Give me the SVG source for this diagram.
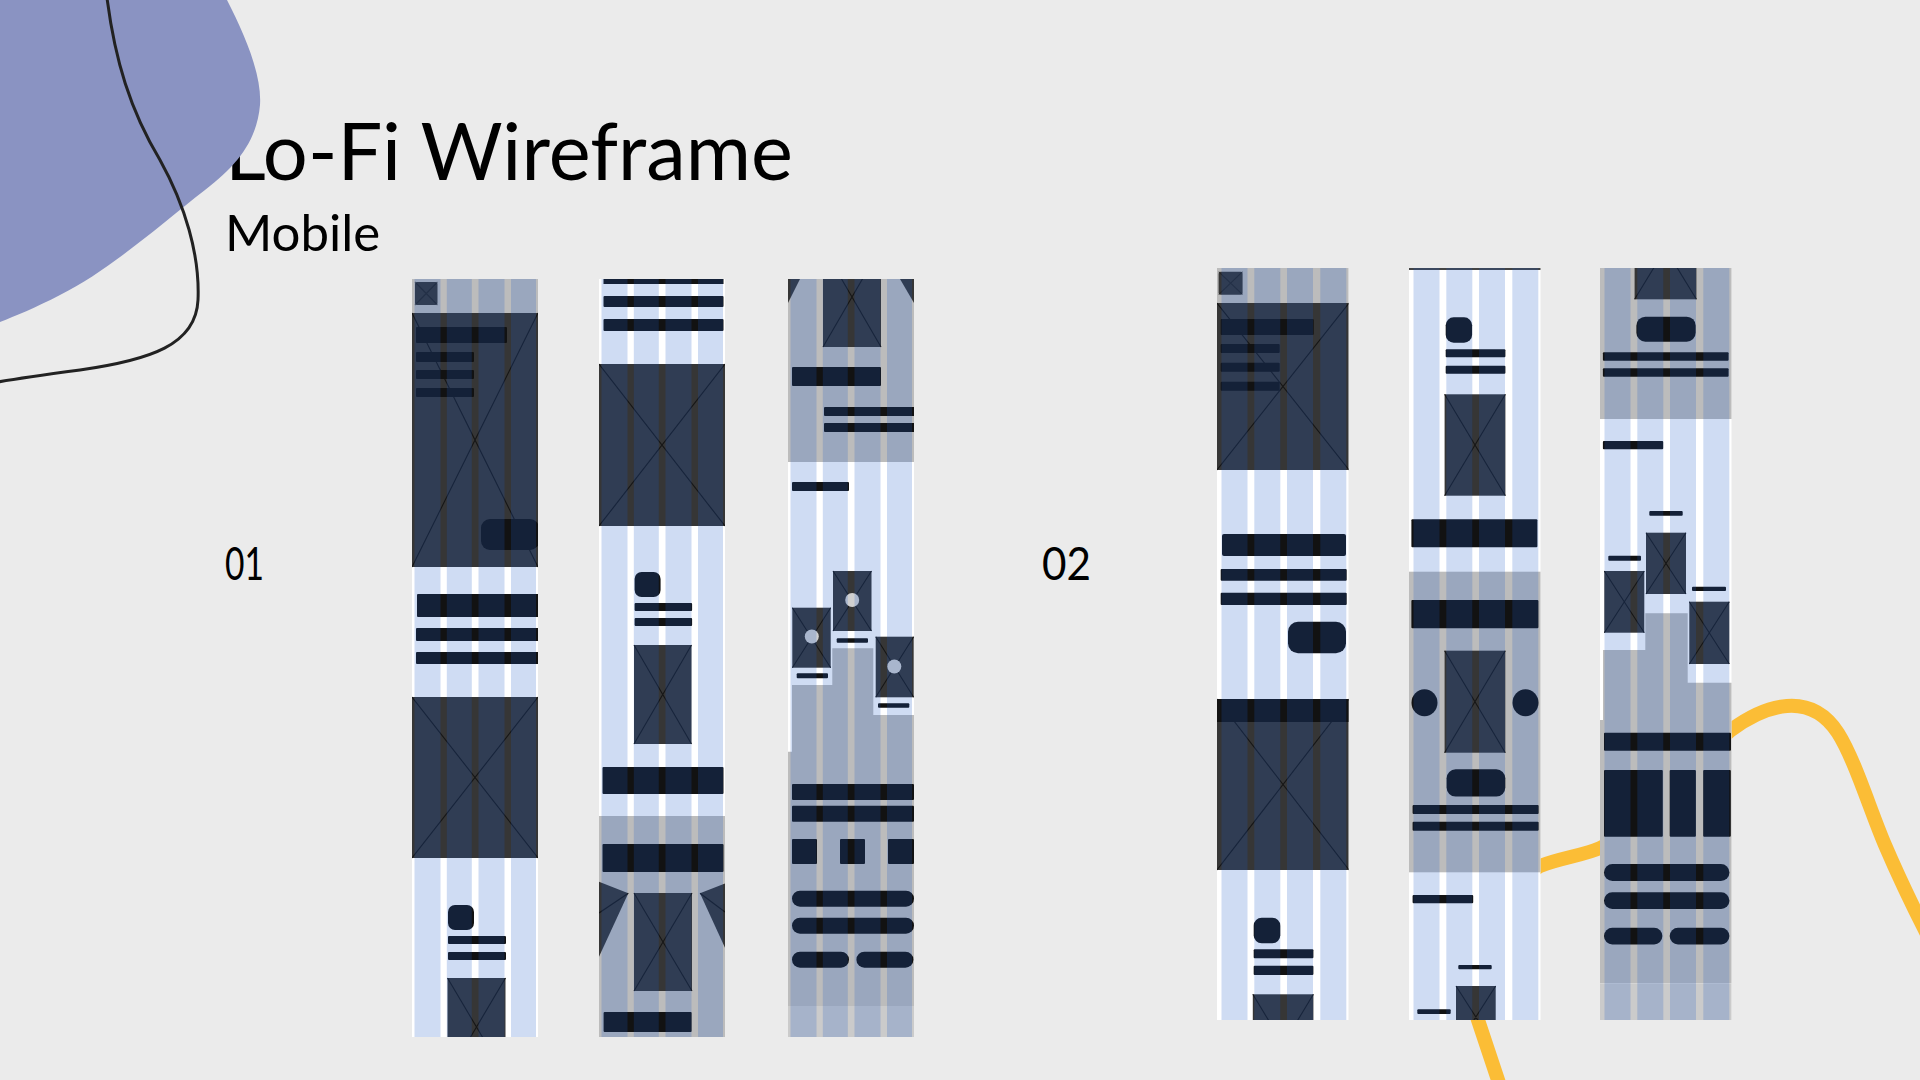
<svg xmlns="http://www.w3.org/2000/svg" xmlns:xlink="http://www.w3.org/1999/xlink" width="1920" height="1080" viewBox="0 0 1920 1080">
<style>
.txt{font-family:Lato,"Liberation Sans",sans-serif;fill:#000}
.w{fill:#fff}.g{fill:#bcbcbc}.d{fill:#363636}.k{fill:#121212}.n{fill:#cbcbcb}.c{fill:#cfcfcf}
.x{fill:none;stroke:#161616;stroke-width:1.1}
.t{fill:#1a58c6;fill-opacity:.21}
</style>
<defs>
<clipPath id="c1"><rect width="126" height="758"/></clipPath>
<clipPath id="c2"><rect width="131.5" height="752"/></clipPath>
<g id="t1"><rect class="t" x="2.5" width="26" height="758"/><rect class="t" x="34.8" width="25" height="758"/><rect class="t" x="66.5" width="26" height="758"/><rect class="t" x="99" width="25" height="758"/></g>
<g id="t2"><rect class="t" x="4.5" width="26" height="752"/><rect class="t" x="37.3" width="26" height="752"/><rect class="t" x="70" width="26" height="752"/><rect class="t" x="103.3" width="26" height="752"/></g>
</defs>
<rect width="1920" height="1080" fill="#ebebeb"/>
<g id="title">
<text class="txt" x="225" y="180" font-size="80" textLength="568" lengthAdjust="spacingAndGlyphs">Lo-Fi Wireframe</text>
<text class="txt" x="225" y="251" font-size="51">Mobile</text>
</g>
<g id="decor">
<path d="M0,0 L227,0 C245,35 262,75 260,105 C257,140 238,165 205,190 C160,225 110,270 60,295 C35,308 15,316 0,322 Z" fill="#8a93c2"/>
<path d="M107,-2 C115,60 130,110 160,160 C185,205 200,255 198,300 C196,345 150,360 80,370 C50,374 20,378 -2,382" fill="none" stroke="#222" stroke-width="3"/>
<path d="M1503,1095 L1478,1020 C1468,990 1480,900 1540,866 C1560,858 1585,855 1600,848 C1650,825 1700,755 1731,730 C1765,705 1810,690 1838,733 C1855,760 1870,810 1885,845 C1897,873 1912,905 1930,940" fill="none" stroke="#fbbd36" stroke-width="14"/>
</g>
<g id="label-01"><text class="txt" x="225" y="580" font-size="46" textLength="39" lengthAdjust="spacingAndGlyphs">01</text></g>
<g id="label-02"><text class="txt" x="1042" y="580" font-size="46" textLength="49" lengthAdjust="spacingAndGlyphs">02</text></g>

<g id="phone-01-a" transform="translate(412,279)"><g clip-path="url(#c1)">
<rect class="w" width="126" height="758"/>
<rect class="g" width="126" height="34"/>
<rect class="d" x="3" y="3" width="22.5" height="23" rx="2"/>
<path class="x" d="M3,3L25.5,26M25.5,3L3,26" opacity=".5"/>
<rect class="d" y="34" width="126" height="254"/>
<path class="x" d="M0,34L126,288M126,34L0,288"/>
<rect class="k" x="4" y="48" width="91" height="16" rx="1"/>
<rect class="k" x="4" y="73" width="58" height="10" rx="1"/>
<rect class="k" x="4" y="91" width="58" height="9" rx="1"/>
<rect class="k" x="4" y="109" width="58" height="9" rx="1"/>
<rect class="k" x="69" y="240" width="58" height="31" rx="9"/>
<rect class="k" x="5" y="315" width="123" height="23" rx="1"/>
<rect class="k" x="4" y="349" width="124" height="13" rx="1"/>
<rect class="k" x="4" y="373" width="124" height="12" rx="1"/>
<rect class="d" y="418" width="126" height="161"/>
<path class="x" d="M0,418L126,579M126,418L0,579"/>
<rect class="k" x="36" y="626" width="26" height="25" rx="7"/>
<rect class="k" x="36" y="657" width="58" height="8" rx="1"/>
<rect class="k" x="36" y="673" width="58" height="8" rx="1"/>
<rect class="d" x="35.5" y="699" width="58" height="98"/>
<path class="x" d="M35.5,699L93.5,797M93.5,699L35.5,797"/>
<use xlink:href="#t1"/>
</g></g>

<g id="phone-01-b" transform="translate(599,279)"><g clip-path="url(#c1)">
<rect class="w" width="126" height="758"/>
<rect class="k" x="4.5" y="-6" width="120" height="11"/>
<rect class="k" x="4.5" y="17" width="120" height="11" rx="1"/>
<rect class="k" x="4.5" y="40" width="120" height="12" rx="1"/>
<rect class="d" y="85" width="126" height="162"/>
<path class="x" d="M0,85L126,247M126,85L0,247"/>
<rect class="k" x="35.6" y="293" width="26" height="25" rx="7"/>
<rect class="k" x="35.6" y="324" width="57.5" height="8" rx="1"/>
<rect class="k" x="35.6" y="339" width="57.5" height="8" rx="1"/>
<rect class="d" x="35" y="366" width="57.5" height="99"/>
<path class="x" d="M35,366L92.5,465M92.5,366L35,465"/>
<rect class="k" x="3.5" y="488" width="121" height="27" rx="1"/>
<rect class="g" y="537" width="126" height="221"/>
<rect class="k" x="3.5" y="565" width="121" height="28" rx="1"/>
<polygon class="d" points="0,602.7 29.3,614.3 0,677.7"/>
<path class="x" d="M29.3,614.3L0,634"/>
<polygon class="d" points="126.3,604.3 101,614.3 126.3,669.3"/>
<path class="x" d="M101,614.3L126,633"/>
<rect class="d" x="35" y="614" width="58" height="98"/>
<path class="x" d="M35,614L93,712M93,614L35,712"/>
<rect class="k" x="4.6" y="733" width="88" height="20" rx="1"/>
<use xlink:href="#t1"/>
</g></g>

<g id="phone-01-c" transform="translate(788,279)"><g clip-path="url(#c1)">
<rect class="w" width="126" height="758"/>
<rect class="g" width="126" height="183"/>
<polygon class="d" points="0,0 12,0 0,24"/>
<polygon class="d" points="112,0 126,0 126,24"/>
<rect class="d" x="35" y="-32" width="58" height="100"/>
<path class="x" d="M35,-32L93,68M93,-32L35,68"/>
<rect class="k" x="4" y="88" width="89" height="19" rx="1"/>
<rect class="k" x="36" y="128" width="92" height="9" rx="1"/>
<rect class="k" x="36" y="144" width="92" height="9" rx="1"/>
<rect class="k" x="4" y="203" width="57" height="9" rx="1"/>
<polygon class="g" points="4,406 44.3,406 44.3,369.3 85.3,369.3 85.3,436 126,436 126,727 0,727 0,472.7 4,472.7"/>
<rect class="n" y="727" width="126" height="31"/>
<rect class="d" x="45" y="292" width="38.5" height="60"/>
<path class="x" d="M45,292L83.5,352M83.5,292L45,352"/>
<circle class="c" cx="64.2" cy="321" r="7"/>
<rect class="k" x="48.7" y="359.3" width="31.3" height="4.4" rx="1"/>
<rect class="d" x="4.3" y="328.7" width="38.4" height="60"/>
<path class="x" d="M4.3,328.7L42.7,388.7M42.7,328.7L4.3,388.7"/>
<circle class="c" cx="23.8" cy="357.5" r="7"/>
<rect class="k" x="8.7" y="394.3" width="31.3" height="5" rx="1"/>
<rect class="d" x="87.7" y="357.7" width="38" height="60.6"/>
<path class="x" d="M87.7,357.7L125.7,418.3M125.7,357.7L87.7,418.3"/>
<circle class="c" cx="106.3" cy="387.5" r="7"/>
<rect class="k" x="90" y="424.3" width="31.3" height="4.4" rx="1"/>
<rect class="k" x="4" y="505" width="122" height="16" rx="1"/>
<rect class="k" x="4" y="526.7" width="122" height="16" rx="1"/>
<rect class="k" x="4" y="560" width="25" height="25" rx="1"/>
<rect class="k" x="52" y="560" width="25" height="25" rx="1"/>
<rect class="k" x="100" y="560" width="26" height="25" rx="1"/>
<rect class="k" x="4" y="611.7" width="122" height="16" rx="8"/>
<rect class="k" x="4" y="638.7" width="122" height="16" rx="8"/>
<rect class="k" x="4" y="672.7" width="57" height="16" rx="8"/>
<rect class="k" x="68.4" y="672.7" width="57" height="16" rx="8"/>
<use xlink:href="#t1"/>
</g></g>

<g id="phone-02-a" transform="translate(1217,268)"><g clip-path="url(#c2)">
<rect class="w" width="132" height="752"/>
<rect class="g" width="132" height="35"/>
<rect class="d" x="1.6" y="3.7" width="24" height="23" rx="2"/>
<path class="x" d="M1.6,3.7L25.6,26.7M25.6,3.7L1.6,26.7" opacity=".5"/>
<rect class="d" y="35" width="132" height="167"/>
<path class="x" d="M0,35L132,202M132,35L0,202"/>
<rect class="k" x="3.7" y="51" width="93" height="16" rx="1"/>
<rect class="k" x="3.7" y="76" width="59" height="9" rx="1"/>
<rect class="k" x="3.7" y="94.7" width="59" height="9" rx="1"/>
<rect class="k" x="3.7" y="113.7" width="59" height="9" rx="1"/>
<rect class="k" x="5" y="266" width="124" height="22" rx="2"/>
<rect class="k" x="3.7" y="301" width="126" height="11.7" rx="1"/>
<rect class="k" x="3.7" y="324.7" width="126" height="12.3" rx="1"/>
<rect class="k" x="71" y="353.7" width="58" height="31.6" rx="10"/>
<rect class="d" y="431" width="132" height="171"/>
<path class="x" d="M0,431L132,602M132,431L0,602"/>
<rect class="k" y="431" width="132" height="23"/>
<rect class="k" x="36.7" y="649.7" width="26.6" height="25.6" rx="8"/>
<rect class="k" x="36.7" y="681.3" width="59.7" height="9" rx="1"/>
<rect class="k" x="36.7" y="697.7" width="59.7" height="9.3" rx="1"/>
<rect class="d" x="35.8" y="726.3" width="60.6" height="100"/>
<path class="x" d="M35.8,726.3L96.4,826.3M96.4,726.3L35.8,826.3"/>
<use xlink:href="#t2"/>
</g></g>

<g id="phone-02-b" transform="translate(1409,268)"><g clip-path="url(#c2)">
<rect class="w" width="132" height="752"/>
<rect fill="#444" width="132" height="2"/>
<rect class="k" x="36.7" y="49.3" width="26.4" height="25.4" rx="8"/>
<rect class="k" x="36.7" y="81.3" width="59.7" height="8" rx="1"/>
<rect class="k" x="36.7" y="97.7" width="59.7" height="8" rx="1"/>
<rect class="d" x="35.6" y="126.3" width="60.8" height="101.4"/>
<path class="x" d="M35.6,126.3L96.4,227.7M96.4,126.3L35.6,227.7"/>
<rect class="k" x="2.4" y="251.3" width="126" height="28" rx="1"/>
<rect class="g" y="303.7" width="132" height="300.6"/>
<rect class="k" x="2.4" y="332" width="127" height="28.3" rx="1"/>
<rect class="d" x="35.6" y="382.7" width="60.7" height="102"/>
<path class="x" d="M35.6,382.7L96.3,484.7M96.3,382.7L35.6,484.7"/>
<ellipse class="k" cx="15.5" cy="434.7" rx="13" ry="13.5"/>
<ellipse class="k" cx="116.5" cy="434.7" rx="13" ry="13.5"/>
<rect class="k" x="37.6" y="501.3" width="58.7" height="27.3" rx="9"/>
<rect class="k" x="3.6" y="537" width="126" height="9" rx="1"/>
<rect class="k" x="3.6" y="553.7" width="126" height="9" rx="1"/>
<rect class="k" x="3.6" y="627" width="60.6" height="8.3" rx="1"/>
<rect class="k" x="49.3" y="697" width="33.4" height="4.3" rx="1"/>
<rect class="k" x="8.3" y="741.3" width="33.4" height="4.7" rx="1"/>
<rect class="d" x="47" y="718" width="39.7" height="62"/>
<path class="x" d="M47,718L86.7,780M86.7,718L47,780"/>
<use xlink:href="#t2"/>
</g></g>

<g id="phone-02-c" transform="translate(1600,268)"><g clip-path="url(#c2)">
<rect class="w" width="132" height="752"/>
<rect class="g" width="132" height="151"/>
<rect class="d" x="34.6" y="-70" width="61.8" height="101.3"/>
<path class="x" d="M34.6,-70L96.4,31.3M96.4,-70L34.6,31.3"/>
<rect class="k" x="36.4" y="48.7" width="59.3" height="25" rx="9"/>
<rect class="k" x="2.9" y="84.3" width="125.7" height="8.4" rx="1"/>
<rect class="k" x="2.9" y="100.3" width="125.7" height="8.4" rx="1"/>
<rect class="k" x="2.9" y="173" width="60.3" height="8.3" rx="1"/>
<polygon class="g" points="3,382 45.3,382 45.3,345.3 87.7,345.3 87.7,414.7 132,414.7 132,715.3 0,715.3 0,452 3,452"/>
<rect class="n" y="715.3" width="132" height="37"/>
<rect class="k" x="49.3" y="243" width="33.4" height="4.7" rx="1"/>
<rect class="k" x="8.3" y="287.7" width="32.7" height="5" rx="1"/>
<rect class="k" x="92" y="318.7" width="34" height="4.3" rx="1"/>
<rect class="d" x="46" y="264.7" width="40" height="61.3"/>
<path class="x" d="M46,264.7L86,326M86,264.7L46,326"/>
<rect class="d" x="4.3" y="303" width="40" height="61.7"/>
<path class="x" d="M4.3,303L44.3,364.7M44.3,303L4.3,364.7"/>
<rect class="d" x="89.3" y="333.7" width="40" height="62.3"/>
<path class="x" d="M89.3,333.7L129.3,396M129.3,333.7L89.3,396"/>
<rect class="k" x="4" y="464.7" width="127" height="18" rx="1"/>
<rect class="k" x="4" y="502" width="58.8" height="66.7" rx="1"/>
<rect class="k" x="69.7" y="502" width="26.2" height="66.7" rx="1"/>
<rect class="k" x="103.2" y="502" width="27.6" height="66.7" rx="1"/>
<rect class="k" x="4" y="596" width="125.4" height="17" rx="8.5"/>
<rect class="k" x="4" y="624.3" width="125.4" height="16.7" rx="8.3"/>
<rect class="k" x="4" y="659.7" width="58.4" height="16.7" rx="8.3"/>
<rect class="k" x="69.7" y="659.7" width="59.7" height="16.7" rx="8.3"/>
<use xlink:href="#t2"/>
</g></g>
</svg>
